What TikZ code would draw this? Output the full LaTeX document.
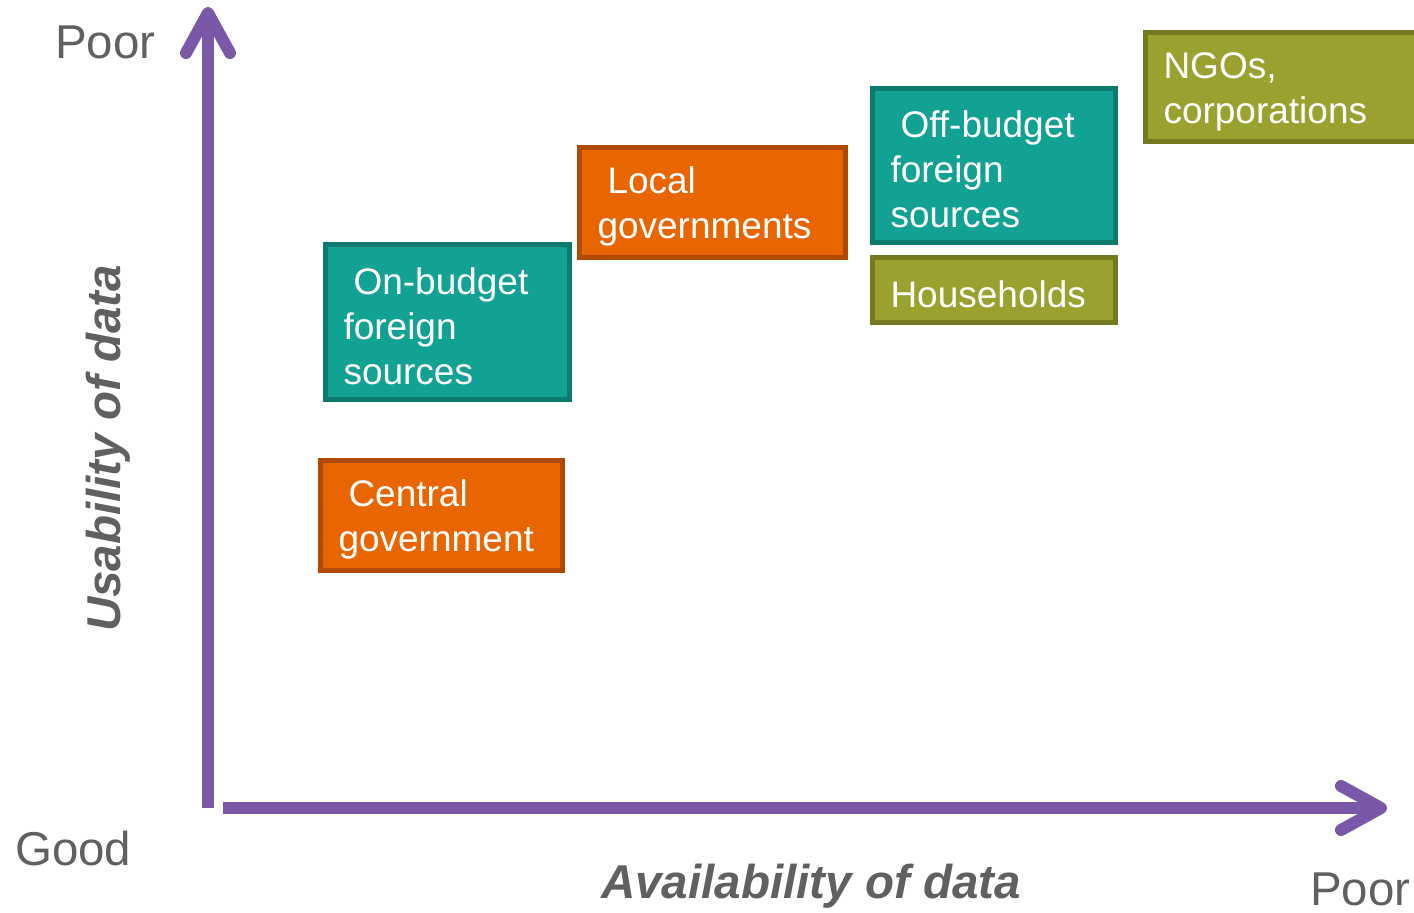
\documentclass[tikz,border=0pt]{standalone}
\usepackage{fontspec}
\setmainfont{Liberation Sans}
\usetikzlibrary{arrows.meta}

\definecolor{tealfill}{HTML}{11A294}
\definecolor{tealline}{HTML}{0C7A6C}
\definecolor{orangefill}{HTML}{E86500}
\definecolor{orangeline}{HTML}{B04A00}
\definecolor{olivefill}{HTML}{9BA12F}
\definecolor{oliveline}{HTML}{767A1E}
\definecolor{axiscol}{HTML}{7B57A8}
\definecolor{labelgray}{HTML}{606060}

\begin{document}
\begin{tikzpicture}[x=1pt, y=-1pt]
	\tikzstyle{Box} = [rectangle, draw, line width=5pt, align=left, inner xsep=18pt, inner ysep=0pt, text=white, font=\fontsize{37}{45}\selectfont, execute at begin node={\rule{0pt}{35pt}}]
	\tikzstyle{Label} = [text=labelgray, inner sep=0pt, font=\fontsize{47.5}{50}\selectfont]
	\tikzstyle{axis} = [line width=12pt, axiscol, -{Straight Barb[length=40pt, width=44pt, round]}]
	
	\clip (0,0) rectangle (1414,913);
	
	% axes
	\coordinate (origin) at (208,808);
	\coordinate (ytip) at (208,7);
	\coordinate (xstart) at (223,808);
	\coordinate (xtip) at (1387,808);
	\draw [axis] (origin) -- (ytip);
	\draw [axis] (xstart) -- (xtip);
	
	\node (poortop) [Label, anchor=base west] at (55,58) {Poor};
	\node (good) [Label, anchor=base west] at (15,865) {Good};
	\node (poorright) [Label, anchor=base west] at (1310,905) {Poor};
	\node (avail) [Label, anchor=base west, font=\fontsize{47.5}{50}\selectfont\bfseries\itshape] at (601,898) {Availability of data};
	\node (usab) [Label, anchor=base west, rotate=90, font=\fontsize{47.5}{50}\selectfont\bfseries\itshape] at (120,632) {Usability of data};
	
	% sources
	\node (central) [Box, fill=orangefill, draw=orangeline, minimum width=242pt, minimum height=110pt, text width=206pt] at (441.5,515.5) {\hspace*{10pt}Central\\government};
	\node (onbudget) [Box, fill=tealfill, draw=tealline, minimum width=244pt, minimum height=155pt, text width=208pt] at (447.5,322) {\hspace*{10pt}On-budget\\foreign\\sources};
	\node (local) [Box, fill=orangefill, draw=orangeline, minimum width=266pt, minimum height=110pt, text width=230pt] at (712.5,202.5) {\hspace*{10pt}Local\\governments};
	\node (offbudget) [Box, fill=tealfill, draw=tealline, minimum width=243pt, minimum height=154pt, text width=207pt] at (994,165.5) {\hspace*{10pt}Off-budget\\foreign\\sources};
	\node (households) [Box, fill=olivefill, draw=oliveline, minimum width=243pt, minimum height=65pt, text width=207pt] at (994,290) {Households};
	\node (ngos) [Box, fill=olivefill, draw=oliveline, minimum width=292pt, minimum height=109pt, text width=256pt] at (1291.5,87) {NGOs,\\corporations};
\end{tikzpicture}
\end{document}
